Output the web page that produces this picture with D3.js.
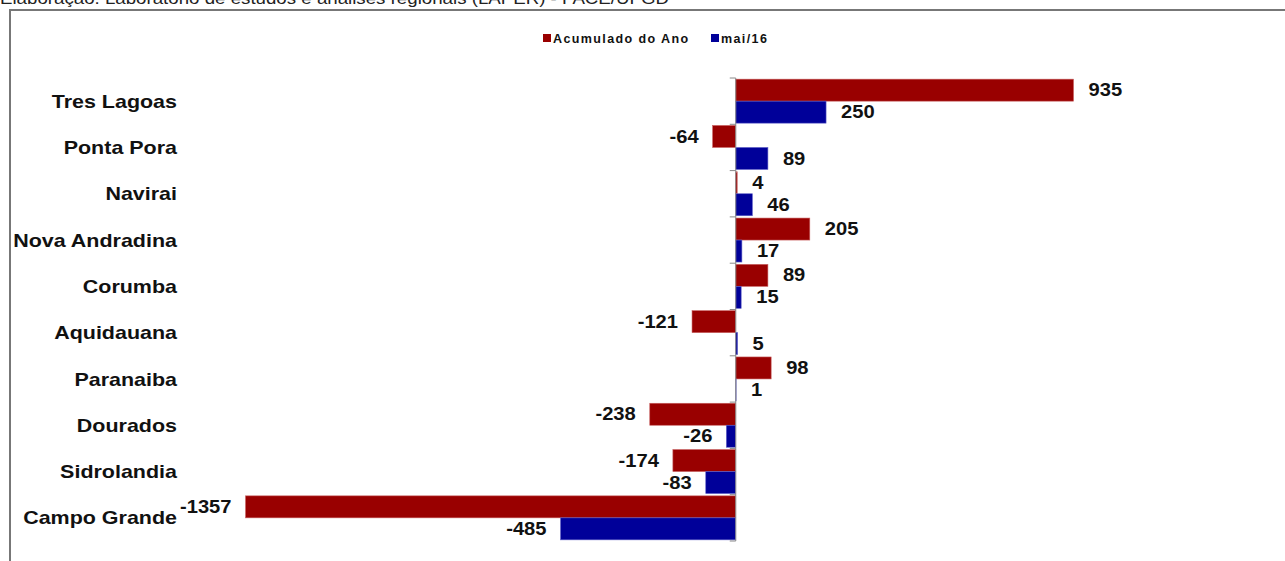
<!DOCTYPE html>
<html>
<head>
<meta charset="utf-8">
<script src="https://cdn.jsdelivr.net/npm/d3@7"></script>
<style>
  body { margin: 0; background: #fff; overflow: hidden; }
  text { font-family: "Liberation Sans", Arial, sans-serif; }
</style>
</head>
<body>
<script>
// data
const cities = ["Tres Lagoas", "Ponta Pora", "Navirai", "Nova Andradina", "Corumba",
  "Aquidauana", "Paranaiba", "Dourados", "Sidrolandia", "Campo Grande"];
const acumulado = [935, -64, 4, 205, 89, -121, 98, -238, -174, -1357];
const maio = [250, 89, 46, 17, 15, 5, 1, -26, -83, -485];
const seriesNames = ["Acumulado do Ano", "mai/16"];
const seriesColors = ["#990000", "#000099"];

const W = 1285, H = 561;
const svg = d3.select("body").append("svg")
  .attr("width", W)
  .attr("height", H);

// source note, cut at the top of the picture
svg.append("text")
  .attr("transform", "translate(0,4) scale(1.1,1)")
  .attr("font-size", 17)
  .attr("fill", "#222")
  .text("Elaboração: Laboratório de estudos e análises regionais (LAPER) - FACE/UFGD");

// chart frame (runs off the right and bottom edges)
svg.append("rect")
  .attr("x", 10).attr("y", 10)
  .attr("width", W + 20).attr("height", H + 20)
  .attr("fill", "none")
  .attr("stroke", "#777")
  .attr("stroke-width", 2);

// legend
const legend = svg.append("g");
const legendX = [543, 711];
seriesNames.forEach((name, i) => {
  legend.append("rect")
    .attr("x", legendX[i]).attr("y", 34)
    .attr("width", 8).attr("height", 8)
    .attr("fill", seriesColors[i]);
  legend.append("text")
    .attr("x", legendX[i] + 10).attr("y", 43)
    .attr("font-size", 12.5)
    .attr("font-weight", "bold")
    .attr("letter-spacing", "1.4px")
    .attr("fill", "#111")
    .text(name);
});

// scales
const x = d3.scaleLinear().domain([-1400, 1000]).range([230, 1097]);
const y0 = d3.scaleBand().domain(cities).range([78, 541])
  .paddingInner(0.05).paddingOuter(0.025);
const y1 = d3.scaleBand().domain([0, 1]).range([0, y0.bandwidth()]);

const rows = cities.map((c, i) => ({ city: c, vals: [acumulado[i], maio[i]] }));

// bars
const group = svg.selectAll(".city")
  .data(rows)
  .enter().append("g")
  .attr("class", "city")
  .attr("transform", d => `translate(0,${y0(d.city)})`);

group.selectAll("rect")
  .data(d => d.vals.map((v, k) => ({ v, k })))
  .enter().append("rect")
  .attr("x", d => x(Math.min(0, d.v)))
  .attr("y", d => y1(d.k))
  .attr("width", d => Math.abs(x(d.v) - x(0)))
  .attr("height", y1.bandwidth())
  .attr("fill", d => seriesColors[d.k])
  .attr("stroke", d => d.k === 0 ? "#c86060" : "#6060c8")
  .attr("stroke-width", 0.6);

// value labels, right of positive bars and left of negative ones
group.selectAll(".val")
  .data(d => d.vals.map((v, k) => ({ v, k })))
  .enter().append("text")
  .attr("class", "val")
  .attr("transform", d => {
    const tx = d.v >= 0 ? x(d.v) + 15 : x(d.v) - 14;
    const ty = y1(d.k) + y1.bandwidth() / 2;
    return `translate(${tx},${ty}) scale(1.12,1)`;
  })
  .attr("text-anchor", d => d.v >= 0 ? "start" : "end")
  .attr("dominant-baseline", "central")
  .attr("font-size", 18)
  .attr("font-weight", "bold")
  .attr("fill", "#111")
  .text(d => d.v);

// zero axis with ticks at band boundaries
const axisG = svg.append("g").attr("transform", `translate(${x(0)},0)`);
axisG.append("line")
  .attr("y1", 78).attr("y2", 541)
  .attr("stroke", "#888").attr("stroke-width", 1);
const bounds = cities.map(c => y0(c) - y0.step() * y0.paddingInner() / 2).concat([541]);
axisG.selectAll(".tick")
  .data(bounds)
  .enter().append("line")
  .attr("x1", -6).attr("x2", 0)
  .attr("y1", d => d).attr("y2", d => d)
  .attr("stroke", "#888");

// category labels
svg.selectAll(".cat")
  .data(cities)
  .enter().append("text")
  .attr("class", "cat")
  .attr("transform", d => `translate(177,${y0(d) + y0.bandwidth() / 2}) scale(1.13,1)`)
  .attr("text-anchor", "end")
  .attr("dominant-baseline", "central")
  .attr("font-size", 19)
  .attr("font-weight", "bold")
  .attr("fill", "#111")
  .text(d => d);
</script>
</body>
</html>
